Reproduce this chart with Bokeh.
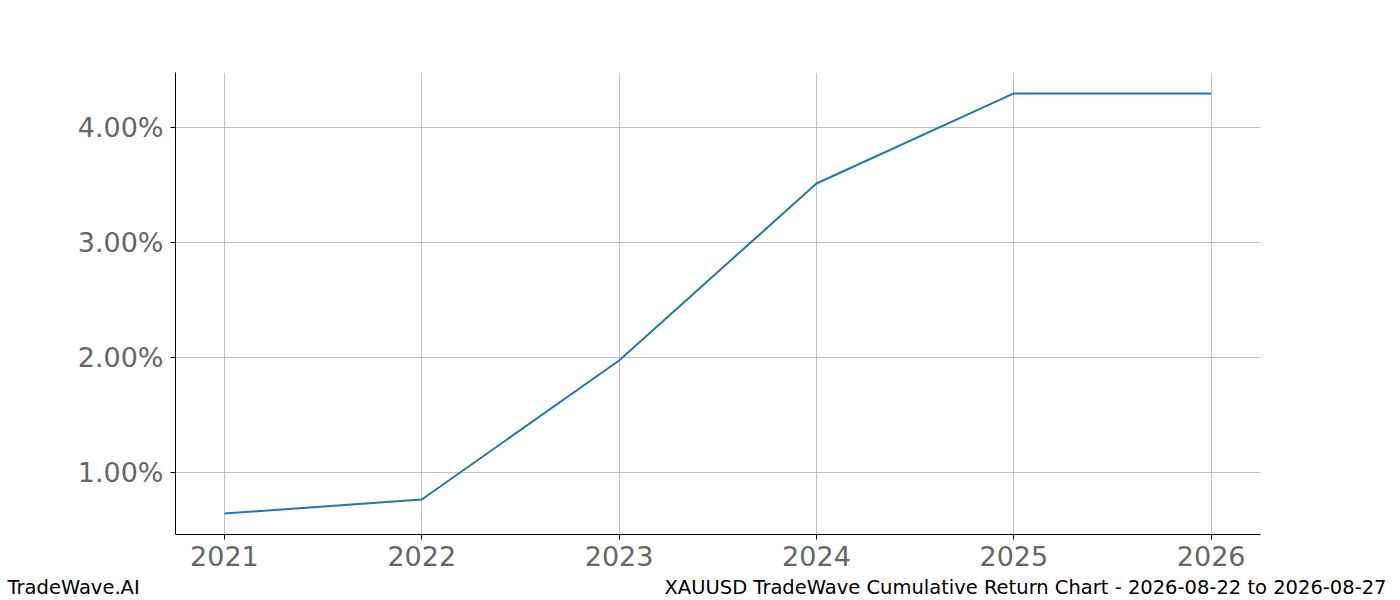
from bokeh.plotting import figure
from bokeh.layouts import column
from bokeh.models import FixedTicker, PrintfTickFormatter, Range1d
from bokeh.core.properties import value
from bokeh.embed import file_html
from bokeh.resources import INLINE

years = [2021, 2022, 2023, 2024, 2025, 2026]
cum_return_pct = [0.643, 0.765, 1.974, 3.513, 4.296, 4.296]
y_ticks = [1.0, 2.0, 3.0, 4.0]
footer_left = "TradeWave.AI"
footer_right = "XAUUSD TradeWave Cumulative Return Chart - 2026-08-22 to 2026-08-27"

W, H = 1392, 576
p = figure(width=W, height=H, output_backend="svg", toolbar_location=None,
           x_range=Range1d(2020.752, 2026.25), y_range=Range1d(0.461, 4.478),
           min_border_left=175, min_border_right=W - 1260,
           min_border_top=72, min_border_bottom=H - 534)
p.outline_line_color = None
p.background_fill_color = "white"
p.border_fill_color = "white"
p.frame_align = False

p.line(years, cum_return_pct, line_color="#1f77b4", line_width=2)

for ax in (p.xaxis[0], p.yaxis[0]):
    ax.axis_line_color = "black"
    ax.axis_line_width = 1
    ax.major_tick_line_color = "black"
    ax.major_tick_in = 0
    ax.major_tick_out = 5
    ax.minor_tick_line_color = None
    ax.major_label_text_font = "DejaVu Sans"
    ax.major_label_text_font_size = "27px"
    ax.major_label_text_color = "#666666"
    ax.major_label_standoff = 6
p.yaxis[0].major_label_standoff = 7

p.xaxis.ticker = FixedTicker(ticks=years)
p.xaxis.formatter = PrintfTickFormatter(format="%d")
p.yaxis.ticker = FixedTicker(ticks=y_ticks)
p.yaxis.formatter = PrintfTickFormatter(format="%.2f%%")

p.xgrid.ticker = FixedTicker(ticks=years)
p.ygrid.ticker = FixedTicker(ticks=y_ticks)
for g in (p.xgrid[0], p.ygrid[0]):
    g.grid_line_color = "#b0b0b0"
    g.grid_line_width = 0.8

FH = 24
f = figure(width=W, height=FH, output_backend="svg", toolbar_location=None,
           x_range=Range1d(0, W), y_range=Range1d(FH, 0),
           x_axis_type=None, y_axis_type=None,
           min_border=0, min_border_left=0, min_border_right=0,
           min_border_top=0, min_border_bottom=0, outline_line_color=None)
f.frame_align = False
f.grid.visible = False
f.text(x=[7], y=[11], text=[footer_left], text_font=value("DejaVu Sans"),
       text_font_size="19.5px", text_color="black", text_align="left",
       text_baseline="alphabetic")
f.text(x=[1386], y=[11], text=[footer_right], text_font=value("DejaVu Sans"),
       text_font_size="19.5px", text_color="black", text_align="right",
       text_baseline="alphabetic")

layout = column(p, f, spacing=0)
open("out.html", "w").write(file_html(layout, INLINE))
